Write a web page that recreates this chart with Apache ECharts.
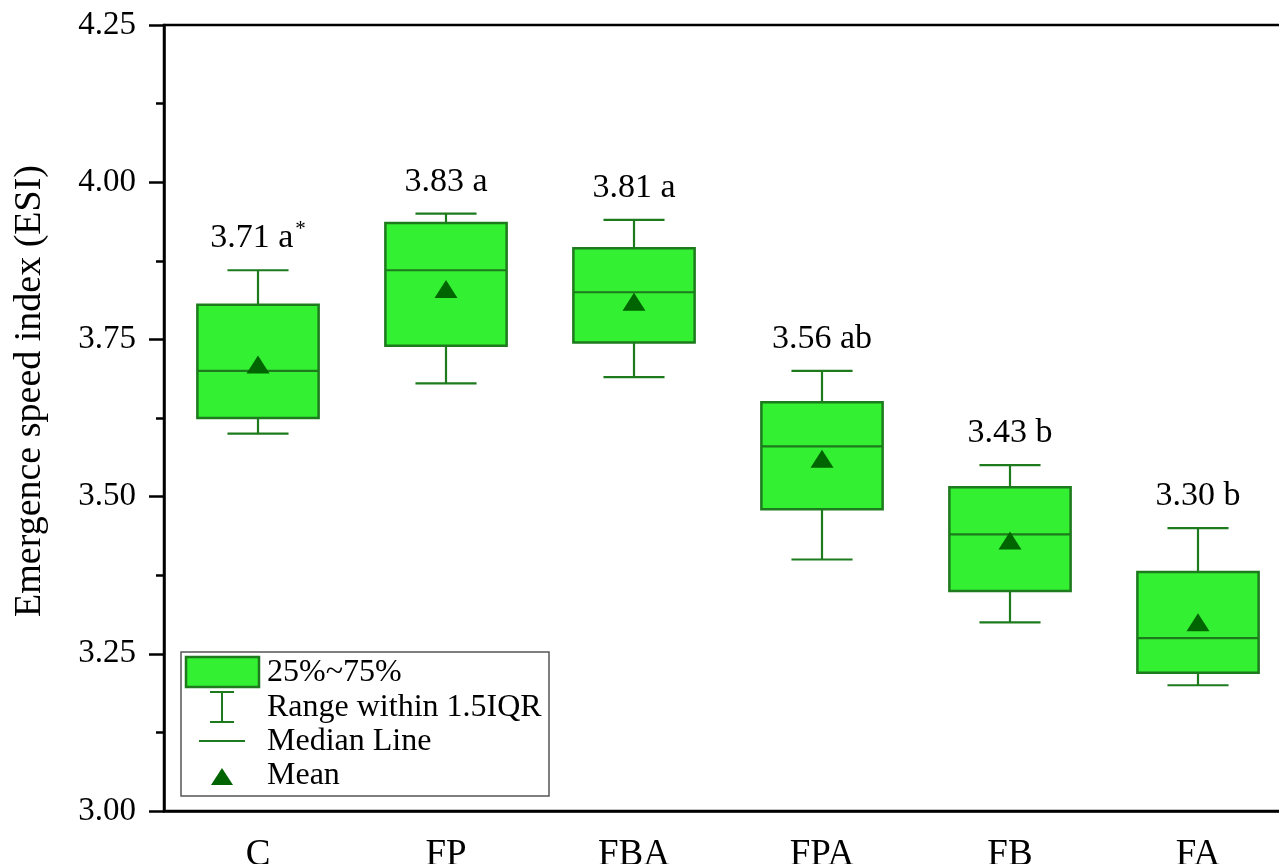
<!DOCTYPE html>
<html>
<head>
<meta charset="utf-8">
<title>Emergence speed index</title>
<script src="https://cdn.jsdelivr.net/npm/echarts@6/dist/echarts.min.js"></script>
<style>
  html, body { margin: 0; padding: 0; background: #ffffff; }
  #chart { width: 1279px; height: 864px; }
</style>
</head>
<body>
<div id="chart"></div>
<script>
// Treatments on the category axis
const categories = ['C', 'FP', 'FBA', 'FPA', 'FB', 'FA'];
// Box statistics per treatment
const whiskerLow  = [3.60, 3.68, 3.69, 3.40, 3.30, 3.20];
const q1          = [3.625, 3.74, 3.745, 3.48, 3.35, 3.22];
const median      = [3.70, 3.86, 3.825, 3.58, 3.44, 3.275];
const q3          = [3.805, 3.935, 3.895, 3.65, 3.515, 3.38];
const whiskerHigh = [3.86, 3.95, 3.94, 3.70, 3.55, 3.45];
// Treatment means and significance letters
const means   = [3.71, 3.83, 3.81, 3.56, 3.43, 3.30];
const letters = ['a', 'a', 'a', 'ab', 'b', 'b'];
const marks   = ['*', '', '', '', '', ''];
// Y axis ticks
const yTicks = [3.00, 3.25, 3.50, 3.75, 4.00, 4.25];

const FONT = '"Liberation Serif", "Times New Roman", serif';
const FILL = '#33f033';
const EDGE = '#1d7a1d';
const MEAN = '#006400';

const boxData = categories.map((c, i) => [i, whiskerLow[i], q1[i], median[i], q3[i], whiskerHigh[i]]);
const labelData = categories.map((c, i) => [i, whiskerHigh[i], means[i], letters[i], marks[i]]);

function renderBox(params, api) {
  const i = api.value(0);
  const band = api.size([1, 0])[0];
  const half = band * 0.645 / 2;
  const cap = band * 0.325 / 2;
  const pLow = api.coord([i, api.value(1)]);
  const pQ1 = api.coord([i, api.value(2)]);
  const pMed = api.coord([i, api.value(3)]);
  const pQ3 = api.coord([i, api.value(4)]);
  const pHigh = api.coord([i, api.value(5)]);
  const x = pMed[0];
  const lineStyle = { stroke: EDGE, lineWidth: 2.2, fill: null };
  return {
    type: 'group',
    children: [
      { type: 'line', shape: { x1: x, y1: pHigh[1], x2: x, y2: pQ3[1] }, style: lineStyle },
      { type: 'line', shape: { x1: x, y1: pQ1[1], x2: x, y2: pLow[1] }, style: lineStyle },
      { type: 'line', shape: { x1: x - cap, y1: pHigh[1], x2: x + cap, y2: pHigh[1] }, style: lineStyle },
      { type: 'line', shape: { x1: x - cap, y1: pLow[1], x2: x + cap, y2: pLow[1] }, style: lineStyle },
      { type: 'rect', shape: { x: x - half, y: pQ3[1], width: half * 2, height: pQ1[1] - pQ3[1] },
        style: { fill: FILL, stroke: EDGE, lineWidth: 2.5 } },
      { type: 'line', shape: { x1: x - half, y1: pMed[1], x2: x + half, y2: pMed[1] }, style: lineStyle }
    ]
  };
}

const chart = echarts.init(document.getElementById('chart'), null, { renderer: 'canvas' });

const legendFont = '32px ' + FONT;

chart.setOption({
  backgroundColor: '#ffffff',
  animation: false,
  grid: {
    left: 164, top: 25, right: -13, bottom: 53,
    containLabel: false,
    outerBoundsMode: 'none',
    show: true, borderColor: '#000', borderWidth: 2.5, backgroundColor: 'transparent'
  },
  xAxis: {
    type: 'category',
    data: categories,
    boundaryGap: true,
    axisLine: { lineStyle: { color: '#000', width: 2.5 } },
    axisTick: { alignWithLabel: true, length: 13, lineStyle: { color: '#000', width: 2.5 } },
    axisLabel: { color: '#000', fontFamily: FONT, fontSize: 37, margin: 26 },
    splitLine: { show: false }
  },
  yAxis: {
    type: 'value',
    min: yTicks[0],
    max: yTicks[yTicks.length - 1],
    interval: 0.25,
    axisLine: { show: true, lineStyle: { color: '#000', width: 2.5 } },
    axisTick: { show: true, length: 15, lineStyle: { color: '#000', width: 2.5 } },
    minorTick: { show: true, splitNumber: 2, length: 8, lineStyle: { color: '#000', width: 2.5 } },
    axisLabel: {
      color: '#000', fontFamily: FONT, fontSize: 33, margin: 28,
      formatter: v => v.toFixed(2)
    },
    splitLine: { show: false },
    minorSplitLine: { show: false }
  },
  series: [
    {
      name: 'Box',
      type: 'custom',
      renderItem: renderBox,
      data: boxData,
      encode: { x: 0, y: [1, 2, 3, 4, 5] },
      z: 2
    },
    {
      name: 'Mean',
      type: 'scatter',
      data: categories.map((c, i) => [i, means[i]]),
      symbol: 'triangle',
      symbolSize: [23, 18],
      itemStyle: { color: MEAN, opacity: 1 },
      z: 5
    },
    {
      name: 'Labels',
      type: 'scatter',
      data: labelData,
      encode: { x: 0, y: 1 },
      symbolSize: 0,
      silent: true,
      itemStyle: { opacity: 1 },
      label: {
        show: true,
        position: 'top',
        distance: 13,
        formatter: p => {
          const d = p.data;
          const main = '{t|' + d[2].toFixed(2) + ' ' + d[3] + '}';
          return d[4] ? main + '{s|' + d[4] + '}' : main;
        },
        rich: {
          t: { color: '#000', fontFamily: FONT, fontSize: 34, lineHeight: 38 },
          s: { color: '#000', fontFamily: FONT, fontSize: 21, verticalAlign: 'top', lineHeight: 38, padding: [0, 0, 16, 2] }
        }
      },
      z: 4
    }
  ],
  graphic: [
    {
      type: 'text',
      x: 30, y: 391,
      rotation: Math.PI / 2,
      style: {
        text: 'Emergence speed index (ESI)',
        font: '38px ' + FONT,
        fill: '#000',
        align: 'center',
        verticalAlign: 'middle'
      }
    },
    { type: 'rect', shape: { x: 181, y: 652, width: 368, height: 144 },
      style: { fill: '#ffffff', stroke: '#555', lineWidth: 1.5 }, z: 10 },
    { type: 'rect', shape: { x: 186, y: 657, width: 73, height: 30 },
      style: { fill: FILL, stroke: EDGE, lineWidth: 2.5 }, z: 11 },
    { type: 'text', x: 267, y: 673, style: { text: '25%~75%', font: legendFont, fill: '#000', verticalAlign: 'middle' }, z: 11 },
    { type: 'line', shape: { x1: 222, y1: 692, x2: 222, y2: 722 }, style: { stroke: EDGE, lineWidth: 2 }, z: 11 },
    { type: 'line', shape: { x1: 210, y1: 692, x2: 234, y2: 692 }, style: { stroke: EDGE, lineWidth: 2 }, z: 11 },
    { type: 'line', shape: { x1: 210, y1: 722, x2: 234, y2: 722 }, style: { stroke: EDGE, lineWidth: 2 }, z: 11 },
    { type: 'text', x: 267, y: 708, style: { text: 'Range within 1.5IQR', font: legendFont, fill: '#000', verticalAlign: 'middle' }, z: 11 },
    { type: 'line', shape: { x1: 199, y1: 741, x2: 245, y2: 741 }, style: { stroke: EDGE, lineWidth: 2 }, z: 11 },
    { type: 'text', x: 267, y: 742, style: { text: 'Median Line', font: legendFont, fill: '#000', verticalAlign: 'middle' }, z: 11 },
    { type: 'polygon', shape: { points: [[211, 785], [233, 785], [222, 768]] }, style: { fill: MEAN }, z: 11 },
    { type: 'text', x: 267, y: 776, style: { text: 'Mean', font: legendFont, fill: '#000', verticalAlign: 'middle' }, z: 11 }
  ]
});
</script>
</body>
</html>
